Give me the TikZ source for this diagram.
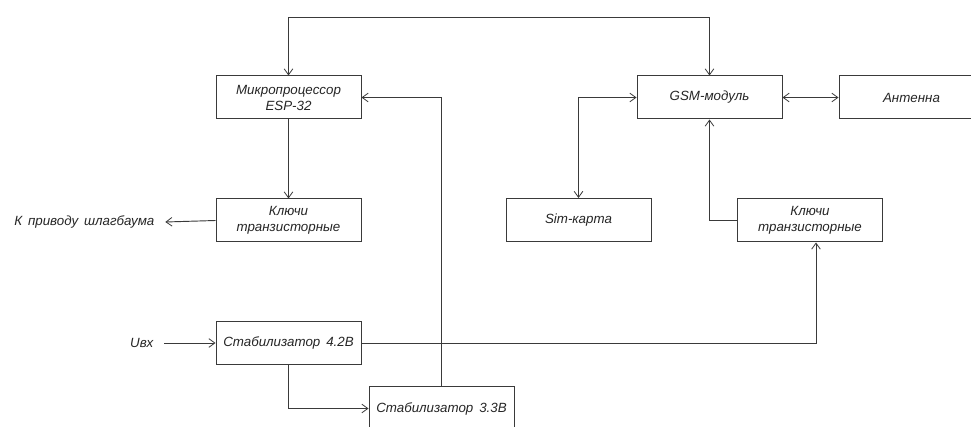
\documentclass[tikz,border=0pt]{standalone}
\usepackage{fontspec}
\setmainfont[WordSpace=1.6]{Liberation Sans}
\usetikzlibrary{arrows.meta}
\definecolor{ln}{HTML}{3A3A3A}
\begin{document}
\begin{tikzpicture}[x=0.75pt,y=-0.75pt,
  blk/.style={draw=ln, line width=0.75pt, minimum width=108.75pt, minimum height=32.25pt, inner sep=0pt, align=center, font=\itshape\fontsize{10pt}{12pt}\selectfont, text=black!85},
  lbl/.style={inner sep=1pt, font=\itshape\fontsize{10pt}{12pt}\selectfont, text=black!85},
  con/.style={draw=ln, line width=0.7pt},
  >={Straight Barb[length=4.5pt,width=6.5pt,line width=0.6pt]}]
\useasboundingbox (0,0) rectangle (971,427);
\fill[white] (0,0) rectangle (971,427);
\begin{scope}
\clip (0,0) rectangle (971,427);
\node[blk] (micro) at (288.5,97.5) {Микропроцессор\\ESP-32};
\node[blk] (keysL) at (288.5,220.5) {Ключи\\транзисторные};
\node[blk] (stab42) at (288.5,343) {Стабилизатор 4.2В};
\node[blk] (stab33) at (441.5,408.5) {Стабилизатор 3.3В};
\node[blk] (gsm) at (709.5,97.5) {GSM-модуль};
\node[blk] (ant) at (911.5,97.5) {Антенна};
\node[blk] (sim) at (578.5,220) {Sim-карта};
\node[blk] (keysR) at (810,220.5) {Ключи\\транзисторные};
\node[lbl, anchor=east] (drive) at (156,222) {К приводу шлагбаума};
\node[lbl, anchor=east] (uin) at (155,343) {Uвх};

\draw[con,<->] (micro.north) -- ++(0,-58) -| (gsm.north);
\draw[con,->] (micro.south) -- (keysL.north);
\draw[con,->] (keysL.west) -- ([xshift=7pt]drive.east);
\draw[con,->] ([xshift=7pt]uin.east) -- (stab42.west);
\draw[con,->] (stab42.south) |- (stab33.west);
\draw[con,->] (stab33.north) |- (micro.east);
\draw[con,->] (stab42.east) -| ([xshift=4.5pt]keysR.south);
\draw[con,->] (keysR.west) -| (gsm.south);
\draw[con,<->] (gsm.west) -| (sim.north);
\draw[con,<->] (gsm.east) -- (ant.west);
\end{scope}
\end{tikzpicture}
\end{document}
